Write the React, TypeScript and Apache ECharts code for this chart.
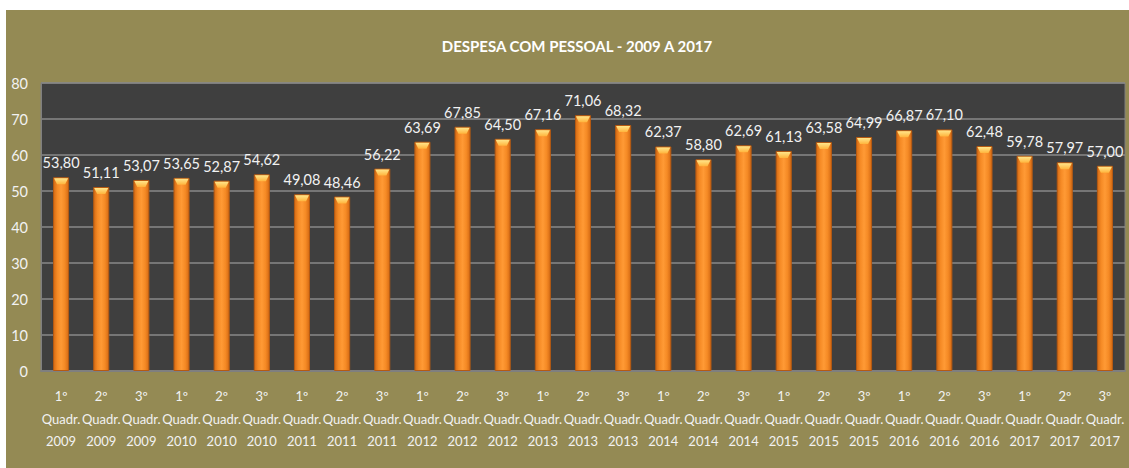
import React, { useEffect, useRef } from "react";
import * as echarts from "echarts";

const quarters = ["1º", "2º", "3º", "1º", "2º", "3º", "1º", "2º", "3º", "1º", "2º", "3º", "1º", "2º", "3º", "1º", "2º", "3º", "1º", "2º", "3º", "1º", "2º", "3º", "1º", "2º", "3º"];
const years = ["2009", "2009", "2009", "2010", "2010", "2010", "2011", "2011", "2011", "2012", "2012", "2012", "2013", "2013", "2013", "2014", "2014", "2014", "2015", "2015", "2015", "2016", "2016", "2016", "2017", "2017", "2017"];
const values = [53.80, 51.11, 53.07, 53.65, 52.87, 54.62, 49.08, 48.46, 56.22, 63.69, 67.85, 64.50, 67.16, 71.06, 68.32, 62.37, 58.80, 62.69, 61.13, 63.58, 64.99, 66.87, 67.10, 62.48, 59.78, 57.97, 57.00];
const yTicks = { min: 0, max: 80, interval: 10 };
const titleText = "DESPESA COM PESSOAL - 2009 A 2017";

const FONT = "Lato, 'Noto Sans', sans-serif";

export default function App() {
  const ref = useRef<HTMLDivElement>(null);
  useEffect(() => {
    if (!ref.current) return;
    const chart = echarts.init(ref.current, null, { renderer: "svg" });
    const categories = quarters.map((q, i) => `${q}\nQuadr.\n${years[i]}`);
    chart.setOption({
      animation: false,
      backgroundColor: "#ffffff",
      graphic: [
        {
          type: "rect",
          z: -10,
          silent: true,
          shape: { x: 6, y: 10, width: 1123, height: 458 },
          style: { fill: "#948A54" },
        },
      ],
      title: {
        text: titleText,
        left: 572,
        top: 33,
        textAlign: "center",
        textStyle: { color: "#FFFFFF", fontSize: 15, fontWeight: "bold", fontFamily: FONT },
      },
      grid: {
        left: 41,
        top: 83,
        right: 4,
        bottom: 97,
        show: true,
        backgroundColor: "#3F3F3F",
        borderColor: "#7F7F7F",
        borderWidth: 1,
      },
      xAxis: {
        type: "category",
        data: categories,
        axisLine: { show: true, lineStyle: { color: "#7F7F7F", width: 2 } },
        axisTick: { show: false },
        axisLabel: {
          color: "#F2F2F2",
          fontSize: 13,
          fontFamily: FONT,
          lineHeight: 22.5,
          margin: 14,
          interval: 0,
        },
      },
      yAxis: {
        type: "value",
        min: yTicks.min,
        max: yTicks.max,
        interval: yTicks.interval,
        axisLine: { show: true, lineStyle: { color: "#7F7F7F", width: 1 } },
        axisTick: { show: false },
        splitLine: { lineStyle: { color: "#8A8A8A", width: 1.5 } },
        axisLabel: { color: "#F2F2F2", fontSize: 14.5, fontFamily: FONT, margin: 13 },
      },
      series: [
        {
          type: "bar",
          data: values,
          barWidth: "40%",
          itemStyle: {
            color: {
              type: "linear",
              x: 0,
              y: 0,
              x2: 1,
              y2: 0,
              colorStops: [
                { offset: 0, color: "#D46A14" },
                { offset: 0.25, color: "#F58A25" },
                { offset: 0.5, color: "#FF9A35" },
                { offset: 0.75, color: "#F58A25" },
                { offset: 1, color: "#D46A14" },
              ],
            },
            borderColor: "#B65A12",
            borderWidth: 1,
          },
          label: {
            show: true,
            position: "top",
            distance: 7,
            color: "#F2F2F2",
            fontSize: 14.5,
            fontFamily: FONT,
            formatter: (p: any) => Number(p.value).toFixed(2).replace(".", ","),
          },
        },
        {
          type: "custom",
          silent: true,
          z: 5,
          data: values.map((v, i) => [i, v]),
          renderItem: (params: any, api: any) => {
            const pt = api.coord([api.value(0), api.value(1)]);
            const w = api.size([1, 0])[0] * 0.4;
            const x0 = pt[0] - w / 2 + 1;
            const x1 = pt[0] + w / 2 - 1;
            const y = pt[1] + 1;
            return {
              type: "polygon",
              shape: {
                points: [
                  [x0, y],
                  [x1, y],
                  [x1 - 3, y + 6],
                  [x0 + 3, y + 6],
                ],
              },
              style: {
                fill: {
                  type: "linear",
                  x: 0,
                  y: 0,
                  x2: 0,
                  y2: 1,
                  colorStops: [
                    { offset: 0, color: "#FFE58A" },
                    { offset: 1, color: "#FFB43C" },
                  ],
                },
              },
            };
          },
        },
      ],
    });
    return () => chart.dispose();
  }, []);
  return <div ref={ref} style={{ position: "absolute", left: 0, top: 0, width: 1129, height: 468 }} />;
}
